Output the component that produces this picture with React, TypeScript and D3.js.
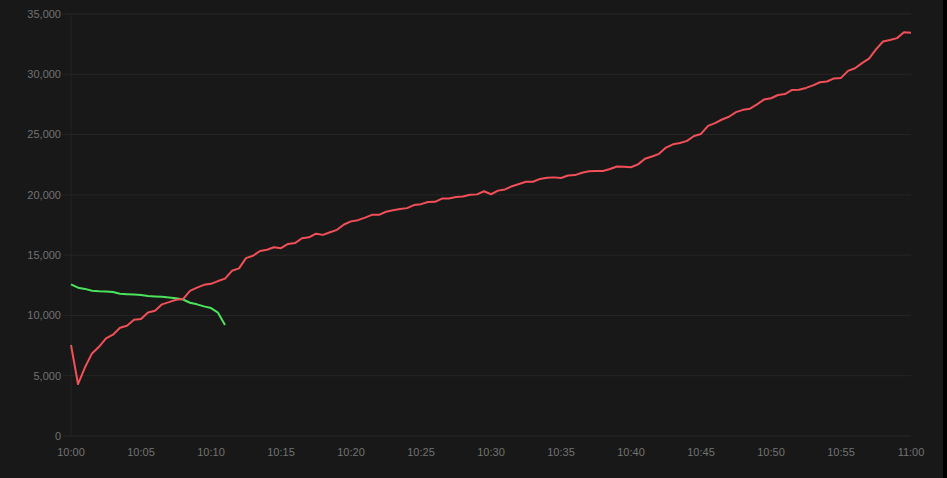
import React from 'react'
import * as d3 from 'd3'

// samples every 30 seconds starting at 10:00
const startTime = new Date(2024, 0, 1, 10, 0, 0)
const stepMs = 30 * 1000

const redValues = [
  7550, 4310, 5700, 6850, 7400, 8100, 8400, 8980, 9150, 9650,
  9700, 10250, 10380, 10920, 11100, 11300, 11360, 12040, 12300, 12540,
  12620, 12850, 13050, 13700, 13900, 14750, 14950, 15340, 15450, 15650,
  15580, 15930, 16000, 16400, 16480, 16780, 16680, 16900, 17100, 17540,
  17800, 17900, 18110, 18340, 18340, 18600, 18730, 18830, 18900, 19150,
  19230, 19410, 19420, 19690, 19700, 19830, 19860, 20010, 20040, 20300,
  20050, 20350, 20450, 20720, 20900, 21090, 21090, 21320, 21420, 21450,
  21400, 21600, 21640, 21830, 21960, 21970, 21980, 22140, 22350, 22330,
  22290, 22530, 23000, 23180, 23400, 23920, 24190, 24300, 24480, 24880,
  25050, 25720, 25950, 26250, 26480, 26860, 27050, 27150, 27500, 27900,
  28010, 28280, 28360, 28700, 28720, 28870, 29080, 29340, 29400, 29660,
  29700, 30280, 30500, 30930, 31300, 32070, 32720, 32850, 33000, 33480,
  33440
]

const greenValues = [
  12580, 12300, 12200, 12050, 12000, 11980, 11950, 11800, 11760, 11730,
  11690, 11610, 11580, 11550, 11490, 11430, 11320, 11050, 10920, 10750,
  10610, 10230, 9210
]

const yTicks = [0, 5000, 10000, 15000, 20000, 25000, 30000, 35000]

const width = 943
const height = 478
const margin = { top: 14, right: 32, bottom: 42, left: 71 }

const toSeries = (values: number[]) =>
  values.map((v, i) => ({ date: new Date(startTime.getTime() + i * stepMs), value: v }))

const App = () => {
  const x = d3
    .scaleTime()
    .domain([startTime, new Date(startTime.getTime() + 60 * 60 * 1000)])
    .range([margin.left, width - margin.right])
  const y = d3
    .scaleLinear()
    .domain([0, 35000])
    .range([height - margin.bottom, margin.top])

  const line = d3
    .line<{ date: Date, value: number }>()
    .x(d => x(d.date))
    .y(d => y(d.value))

  const xTicks = x.ticks(d3.timeMinute.every(5)!)
  const fmtTime = d3.timeFormat('%H:%M')
  const fmtNum = d3.format(',')

  return (
    <div style={{ background: '#000', width: 947, height: 478 }}>
      <style>{'body { margin: 0; background: #000; overflow: hidden; }'}</style>
      <svg width={width} height={height} style={{ display: 'block', background: '#181818' }}
        fontFamily='"Liberation Sans", Arial, sans-serif' fontSize={11}>
        <line x1={margin.left} x2={margin.left} y1={margin.top} y2={height - margin.bottom} stroke='#222' />
        {yTicks.map(t => (
          <g key={t}>
            <line x1={margin.left - 8} x2={width - margin.right} y1={y(t)} y2={y(t)} stroke='#262626' />
            <text x={margin.left - 10} y={y(t)} dy='0.35em' textAnchor='end' fill='#727272'>{fmtNum(t)}</text>
          </g>
        ))}
        {xTicks.map(t => (
          <text key={+t} x={x(t)} y={height - margin.bottom + 20} textAnchor='middle' fill='#727272'>{fmtTime(t)}</text>
        ))}
        <path d={line(toSeries(greenValues))!} fill='none' stroke='#4be35b' strokeWidth={2} strokeLinejoin='round' />
        <path d={line(toSeries(redValues))!} fill='none' stroke='#f24f58' strokeWidth={2} strokeLinejoin='round' />
      </svg>
    </div>
  )
}

export default App
